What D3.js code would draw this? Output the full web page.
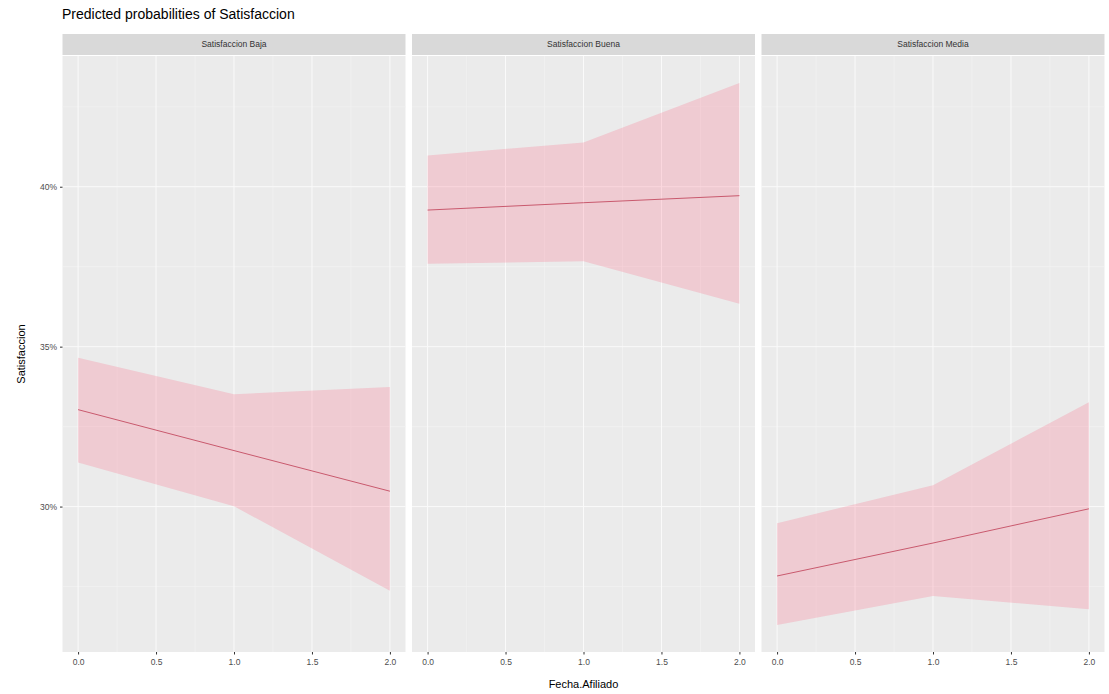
<!DOCTYPE html>
<html>
<head>
<meta charset="utf-8">
<script src="https://cdn.jsdelivr.net/npm/d3@7"></script>
<style>
  body { margin: 0; background: #fff; }
  svg { font-family: "Liberation Sans", Arial, sans-serif; }
</style>
</head>
<body>
<svg id="chart" width="1109" height="694"></svg>
<script>
// data (percent)
const facets = ["Satisfaccion Baja", "Satisfaccion Buena", "Satisfaccion Media"];
const xValues = [0, 1, 2];
const predicted = [
  [33.03, 31.75, 30.48],
  [39.27, 39.50, 39.72],
  [27.83, 28.86, 29.93]
];
const confLow = [
  [31.38, 30.01, 27.37],
  [37.59, 37.67, 36.34],
  [26.30, 27.20, 26.79]
];
const confHigh = [
  [34.65, 33.51, 33.74],
  [40.98, 41.38, 43.24],
  [29.48, 30.67, 33.26]
];
const xTicks = [0, 0.5, 1, 1.5, 2];
const yTicks = [30, 35, 40];

const svg = d3.select("#chart");
const margin = { top: 56, left: 62.5, bottom: 652 };
const panelW = 343, gap = 6.5, stripH = 22;

// y scale shared by all panels, ggplot-like 5% expansion
const allVals = confLow.flat().concat(confHigh.flat());
const yMin = d3.min(allVals), yMax = d3.max(allVals);
const yPad = (yMax - yMin) * 0.05;
const y = d3.scaleLinear().domain([yMin - yPad, yMax + yPad]).range([margin.bottom, margin.top]);

// title
svg.append("text")
  .attr("x", 62).attr("y", 19)
  .attr("font-size", 14).attr("fill", "#000")
  .text("Predicted probabilities of Satisfaccion");

facets.forEach(function (name, i) {
  const left = margin.left + i * (panelW + gap);
  const x = d3.scaleLinear().domain([-0.1, 2.1]).range([left, left + panelW]);
  const g = svg.append("g");

  // strip
  g.append("rect")
    .attr("x", left).attr("y", margin.top - stripH)
    .attr("width", panelW).attr("height", stripH - 1)
    .attr("fill", "#d9d9d9");
  g.append("text")
    .attr("x", left + panelW / 2).attr("y", margin.top - stripH / 2 + 2)
    .attr("text-anchor", "middle").attr("font-size", 8.5).attr("fill", "#333")
    .text(name);

  // panel background
  g.append("rect")
    .attr("x", left).attr("y", margin.top)
    .attr("width", panelW).attr("height", margin.bottom - margin.top)
    .attr("fill", "#ebebeb");

  // minor grid
  const xMinor = d3.range(-0.25, 2.3, 0.5).filter(v => v > -0.1 && v < 2.1);
  const yMinor = [27.5, 32.5, 37.5, 42.5];
  g.selectAll(".xminor").data(xMinor).enter().append("line")
    .attr("x1", d => x(d)).attr("x2", d => x(d))
    .attr("y1", margin.top).attr("y2", margin.bottom)
    .attr("stroke", "#f3f3f3").attr("stroke-width", 0.6);
  g.selectAll(".yminor").data(yMinor).enter().append("line")
    .attr("x1", left).attr("x2", left + panelW)
    .attr("y1", d => y(d)).attr("y2", d => y(d))
    .attr("stroke", "#f3f3f3").attr("stroke-width", 0.6);

  // major grid
  g.selectAll(".xmajor").data(xTicks).enter().append("line")
    .attr("x1", d => x(d)).attr("x2", d => x(d))
    .attr("y1", margin.top).attr("y2", margin.bottom)
    .attr("stroke", "#fafafa").attr("stroke-width", 1);
  g.selectAll(".ymajor").data(yTicks).enter().append("line")
    .attr("x1", left).attr("x2", left + panelW)
    .attr("y1", d => y(d)).attr("y2", d => y(d))
    .attr("stroke", "#fafafa").attr("stroke-width", 1);

  const pts = xValues.map(function (xv, j) {
    return { x: xv, p: predicted[i][j], lo: confLow[i][j], hi: confHigh[i][j] };
  });

  // ribbon
  g.append("path")
    .datum(pts)
    .attr("fill", "#ff4d6e").attr("fill-opacity", 0.2)
    .attr("d", d3.area().x(d => x(d.x)).y0(d => y(d.lo)).y1(d => y(d.hi)));

  // line
  g.append("path")
    .datum(pts)
    .attr("fill", "none").attr("stroke", "#c95a6e").attr("stroke-width", 1)
    .attr("d", d3.line().x(d => x(d.x)).y(d => y(d.p)));

  // x axis
  const xa = g.append("g")
    .attr("transform", "translate(0," + margin.bottom + ")")
    .call(d3.axisBottom(x).tickValues(xTicks).tickSize(2.5).tickPadding(4).tickFormat(d3.format(".1f")));
  xa.select(".domain").remove();
  xa.selectAll("line").attr("stroke", "#333");
  xa.selectAll("text").attr("font-size", 8.5).attr("fill", "#4d4d4d").attr("font-family", "Liberation Sans, Arial, sans-serif");
});

// y axis
const ya = svg.append("g")
  .attr("transform", "translate(" + margin.left + ",0)")
  .call(d3.axisLeft(y).tickValues(yTicks).tickSize(2.5).tickPadding(3).tickFormat(d => d + "%"));
ya.select(".domain").remove();
ya.selectAll("line").attr("stroke", "#333");
ya.selectAll("text").attr("font-size", 8.5).attr("fill", "#4d4d4d").attr("font-family", "Liberation Sans, Arial, sans-serif");

// axis titles
svg.append("text")
  .attr("x", margin.left + (3 * panelW + 2 * gap) / 2).attr("y", 688)
  .attr("text-anchor", "middle").attr("font-size", 11).attr("fill", "#000")
  .text("Fecha.Afiliado");
svg.append("text")
  .attr("transform", "translate(25," + ((margin.top + margin.bottom) / 2) + ") rotate(-90)")
  .attr("text-anchor", "middle").attr("font-size", 11).attr("fill", "#000")
  .text("Satisfaccion");
</script>
</body>
</html>
